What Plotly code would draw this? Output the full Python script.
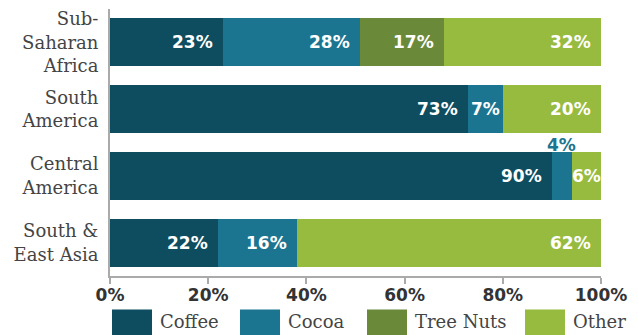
import plotly.graph_objects as go

regions = ["Sub-<br>Saharan<br>Africa", "South<br>America", "Central<br>America", "South &<br>East Asia"]
series_names = ["Coffee", "Cocoa", "Tree Nuts", "Other"]
coffee = [23, 73, 90, 22]
cocoa = [28, 7, 4, 16]
tree_nuts = [17, 0, 0, 0]
other = [32, 20, 6, 62]
tick_vals = [0, 20, 40, 60, 80, 100]
tick_text = ["0%", "20%", "40%", "60%", "80%", "100%"]

colors = ["#0d4d5f", "#1b7591", "#6a8a3a", "#97bb3e"]
values = [coffee, cocoa, tree_nuts, other]

fig = go.Figure()
for name, vals, col in zip(series_names, values, colors):
    fig.add_trace(go.Bar(
        y=regions, x=vals, name=name, orientation="h",
        marker=dict(color=col, line=dict(width=0)),
        showlegend=False, hoverinfo="skip",
    ))

annotations = []
label_font = dict(family="DejaVu Sans", size=17, color="white", weight="bold")
for i, reg in enumerate(regions):
    cum = 0
    for s, vals in enumerate(values):
        v = vals[i]
        start = cum
        cum += v
        if v <= 0:
            continue
        if v < 5:
            annotations.append(dict(x=(start + cum) / 2, y=reg, xref="x", yref="y",
                                    text=f"{v}%", showarrow=False, yshift=31,
                                    font=dict(family="DejaVu Sans", size=17,
                                              color=colors[s], weight="bold")))
        elif v < 10:
            annotations.append(dict(x=(start + cum) / 2, y=reg, xref="x", yref="y",
                                    text=f"{v}%", showarrow=False, font=label_font))
        else:
            annotations.append(dict(x=cum, y=reg, xref="x", yref="y", xanchor="right",
                                    text=f"{v}%", showarrow=False, xshift=-8,
                                    font=label_font))

# custom legend
L, W = 110, 491
def px(p):
    return (p - L) / W
T, H = 8.5, 268
def py(p):
    return (T + H - p) / H

legend_x = [112, 240, 367, 525]
shapes = []
for name, col, lx in zip(series_names, colors, legend_x):
    shapes.append(dict(type="rect", xref="paper", yref="paper",
                       x0=px(lx), x1=px(lx + 40), y0=py(336), y1=py(310),
                       fillcolor=col, line=dict(width=0), layer="above"))
    annotations.append(dict(x=px(lx + 46), y=py(322), xref="paper", yref="paper",
                            xanchor="left", yanchor="middle", text=name, showarrow=False,
                            font=dict(family="DejaVu Serif", size=18, color="#444444")))

fig.update_layout(
    barmode="stack",
    bargap=0.284,
    width=638, height=335,
    margin=dict(l=110, r=37, t=8.5, b=58.5),
    paper_bgcolor="white", plot_bgcolor="white",
    xaxis=dict(range=[0, 100], tickvals=tick_vals, ticktext=tick_text,
               showgrid=False, zeroline=False, showline=True, linecolor="#aaaaaa",
               linewidth=2, ticks="outside", ticklen=6, tickcolor="#aaaaaa", tickwidth=1.5,
               ticklabelstandoff=-3,
               tickfont=dict(family="DejaVu Sans", size=17, color="#333333", weight="bold"),
               fixedrange=True),
    yaxis=dict(autorange="reversed", showgrid=False, zeroline=False, showline=True,
               linecolor="#aaaaaa", linewidth=2, ticks="", ticklabelstandoff=6,
               tickfont=dict(family="DejaVu Serif", size=18, color="#444444"),
               fixedrange=True),
    annotations=annotations,
    shapes=shapes,
)

fig.write_html("out.html")
